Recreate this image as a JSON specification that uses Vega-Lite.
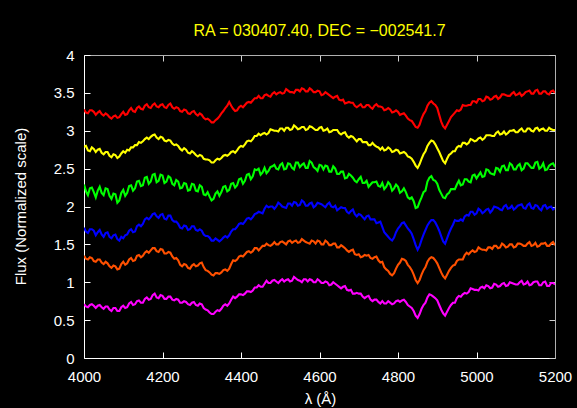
{
"$schema":"https://vega.github.io/schema/vega-lite/v6.json",
"width":471,"height":303,
"autosize":{"type":"none"},
"padding":{"left":84,"top":55,"right":22,"bottom":50},
"background":"black",
"config":{"view":{"stroke":null},"font":"Liberation Sans"},
"title":{"text":"RA = 030407.40, DEC = −002541.7","color":"#ffff00","fontSize":16,"fontWeight":"normal","font":"Liberation Sans","baseline":"alphabetic","offset":8,"dy":12,"anchor":"middle"},
"data":{"values":[
{"x":4000,"r":3.28,"y":2.79,"g":2.29,"b":1.72,"o":1.35,"m":0.71},
{"x":4005,"r":3.24,"y":2.80,"g":2.20,"b":1.67,"o":1.31,"m":0.68},
{"x":4010,"r":3.23,"y":2.74,"g":2.15,"b":1.65,"o":1.30,"m":0.67},
{"x":4015,"r":3.27,"y":2.73,"g":2.24,"b":1.70,"o":1.33,"m":0.70},
{"x":4020,"r":3.27,"y":2.78,"g":2.25,"b":1.70,"o":1.32,"m":0.71},
{"x":4025,"r":3.25,"y":2.76,"g":2.19,"b":1.68,"o":1.28,"m":0.69},
{"x":4030,"r":3.21,"y":2.72,"g":2.12,"b":1.62,"o":1.27,"m":0.66},
{"x":4035,"r":3.24,"y":2.75,"g":2.21,"b":1.66,"o":1.30,"m":0.69},
{"x":4040,"r":3.26,"y":2.76,"g":2.26,"b":1.69,"o":1.30,"m":0.70},
{"x":4045,"r":3.22,"y":2.71,"g":2.18,"b":1.63,"o":1.26,"m":0.67},
{"x":4050,"r":3.20,"y":2.69,"g":2.15,"b":1.60,"o":1.24,"m":0.65},
{"x":4055,"r":3.23,"y":2.72,"g":2.24,"b":1.65,"o":1.27,"m":0.68},
{"x":4060,"r":3.21,"y":2.72,"g":2.23,"b":1.66,"o":1.25,"m":0.68},
{"x":4065,"r":3.18,"y":2.67,"g":2.14,"b":1.60,"o":1.21,"m":0.64},
{"x":4070,"r":3.16,"y":2.65,"g":2.10,"b":1.58,"o":1.19,"m":0.62},
{"x":4075,"r":3.19,"y":2.69,"g":2.17,"b":1.62,"o":1.22,"m":0.66},
{"x":4080,"r":3.20,"y":2.68,"g":2.16,"b":1.63,"o":1.21,"m":0.66},
{"x":4085,"r":3.17,"y":2.64,"g":2.05,"b":1.57,"o":1.17,"m":0.62},
{"x":4090,"r":3.18,"y":2.66,"g":2.08,"b":1.55,"o":1.18,"m":0.62},
{"x":4095,"r":3.22,"y":2.70,"g":2.18,"b":1.60,"o":1.24,"m":0.67},
{"x":4100,"r":3.25,"y":2.73,"g":2.22,"b":1.58,"o":1.27,"m":0.69},
{"x":4105,"r":3.21,"y":2.71,"g":2.14,"b":1.62,"o":1.23,"m":0.66},
{"x":4110,"r":3.22,"y":2.75,"g":2.18,"b":1.63,"o":1.25,"m":0.67},
{"x":4115,"r":3.27,"y":2.74,"g":2.27,"b":1.68,"o":1.30,"m":0.72},
{"x":4120,"r":3.30,"y":2.78,"g":2.28,"b":1.70,"o":1.32,"m":0.74},
{"x":4125,"r":3.26,"y":2.78,"g":2.21,"b":1.66,"o":1.28,"m":0.70},
{"x":4130,"r":3.25,"y":2.81,"g":2.24,"b":1.67,"o":1.29,"m":0.71},
{"x":4135,"r":3.30,"y":2.81,"g":2.33,"b":1.74,"o":1.35,"m":0.75},
{"x":4140,"r":3.32,"y":2.85,"g":2.34,"b":1.76,"o":1.36,"m":0.76},
{"x":4145,"r":3.29,"y":2.84,"g":2.27,"b":1.74,"o":1.33,"m":0.73},
{"x":4150,"r":3.28,"y":2.86,"g":2.28,"b":1.77,"o":1.35,"m":0.73},
{"x":4155,"r":3.33,"y":2.89,"g":2.38,"b":1.83,"o":1.39,"m":0.78},
{"x":4160,"r":3.35,"y":2.91,"g":2.39,"b":1.85,"o":1.41,"m":0.80},
{"x":4165,"r":3.31,"y":2.89,"g":2.30,"b":1.83,"o":1.39,"m":0.77},
{"x":4170,"r":3.30,"y":2.92,"g":2.33,"b":1.86,"o":1.42,"m":0.78},
{"x":4175,"r":3.34,"y":2.94,"g":2.42,"b":1.90,"o":1.45,"m":0.83},
{"x":4180,"r":3.36,"y":2.95,"g":2.43,"b":1.91,"o":1.45,"m":0.85},
{"x":4185,"r":3.32,"y":2.91,"g":2.32,"b":1.87,"o":1.41,"m":0.80},
{"x":4190,"r":3.31,"y":2.89,"g":2.34,"b":1.85,"o":1.40,"m":0.79},
{"x":4195,"r":3.34,"y":2.92,"g":2.42,"b":1.89,"o":1.44,"m":0.83},
{"x":4200,"r":3.35,"y":2.91,"g":2.41,"b":1.90,"o":1.43,"m":0.82},
{"x":4205,"r":3.31,"y":2.87,"g":2.31,"b":1.84,"o":1.38,"m":0.78},
{"x":4210,"r":3.30,"y":2.86,"g":2.33,"b":1.83,"o":1.38,"m":0.78},
{"x":4215,"r":3.34,"y":2.88,"g":2.40,"b":1.88,"o":1.40,"m":0.81},
{"x":4220,"r":3.36,"y":2.87,"g":2.38,"b":1.88,"o":1.39,"m":0.81},
{"x":4225,"r":3.31,"y":2.83,"g":2.30,"b":1.82,"o":1.34,"m":0.77},
{"x":4230,"r":3.29,"y":2.81,"g":2.28,"b":1.80,"o":1.31,"m":0.76},
{"x":4235,"r":3.31,"y":2.82,"g":2.35,"b":1.80,"o":1.32,"m":0.78},
{"x":4240,"r":3.30,"y":2.80,"g":2.33,"b":1.77,"o":1.29,"m":0.77},
{"x":4245,"r":3.26,"y":2.76,"g":2.24,"b":1.72,"o":1.23,"m":0.73},
{"x":4250,"r":3.25,"y":2.74,"g":2.25,"b":1.71,"o":1.21,"m":0.73},
{"x":4255,"r":3.28,"y":2.77,"g":2.31,"b":1.75,"o":1.24,"m":0.75},
{"x":4260,"r":3.27,"y":2.75,"g":2.30,"b":1.74,"o":1.23,"m":0.74},
{"x":4265,"r":3.23,"y":2.71,"g":2.21,"b":1.69,"o":1.19,"m":0.71},
{"x":4270,"r":3.22,"y":2.70,"g":2.22,"b":1.70,"o":1.18,"m":0.70},
{"x":4275,"r":3.25,"y":2.73,"g":2.30,"b":1.74,"o":1.22,"m":0.73},
{"x":4280,"r":3.26,"y":2.71,"g":2.29,"b":1.74,"o":1.24,"m":0.74},
{"x":4285,"r":3.22,"y":2.68,"g":2.21,"b":1.69,"o":1.21,"m":0.70},
{"x":4290,"r":3.20,"y":2.66,"g":2.20,"b":1.68,"o":1.22,"m":0.69},
{"x":4295,"r":3.23,"y":2.68,"g":2.28,"b":1.70,"o":1.25,"m":0.72},
{"x":4300,"r":3.21,"y":2.67,"g":2.26,"b":1.68,"o":1.26,"m":0.71},
{"x":4305,"r":3.17,"y":2.63,"g":2.16,"b":1.63,"o":1.20,"m":0.66},
{"x":4310,"r":3.15,"y":2.62,"g":2.15,"b":1.61,"o":1.16,"m":0.64},
{"x":4315,"r":3.16,"y":2.62,"g":2.19,"b":1.61,"o":1.15,"m":0.63},
{"x":4320,"r":3.14,"y":2.61,"g":2.13,"b":1.59,"o":1.13,"m":0.60},
{"x":4325,"r":3.11,"y":2.58,"g":2.08,"b":1.55,"o":1.10,"m":0.58},
{"x":4330,"r":3.11,"y":2.58,"g":2.10,"b":1.55,"o":1.09,"m":0.58},
{"x":4335,"r":3.14,"y":2.61,"g":2.17,"b":1.58,"o":1.12,"m":0.61},
{"x":4340,"r":3.16,"y":2.63,"g":2.20,"b":1.56,"o":1.12,"m":0.63},
{"x":4345,"r":3.19,"y":2.62,"g":2.14,"b":1.54,"o":1.11,"m":0.62},
{"x":4350,"r":3.23,"y":2.64,"g":2.19,"b":1.56,"o":1.13,"m":0.65},
{"x":4355,"r":3.26,"y":2.67,"g":2.26,"b":1.59,"o":1.16,"m":0.69},
{"x":4360,"r":3.30,"y":2.68,"g":2.27,"b":1.61,"o":1.17,"m":0.71},
{"x":4365,"r":3.33,"y":2.67,"g":2.20,"b":1.59,"o":1.15,"m":0.69},
{"x":4370,"r":3.38,"y":2.69,"g":2.22,"b":1.62,"o":1.18,"m":0.72},
{"x":4375,"r":3.33,"y":2.72,"g":2.30,"b":1.67,"o":1.24,"m":0.77},
{"x":4380,"r":3.29,"y":2.73,"g":2.31,"b":1.70,"o":1.29,"m":0.81},
{"x":4385,"r":3.26,"y":2.71,"g":2.25,"b":1.70,"o":1.28,"m":0.79},
{"x":4390,"r":3.27,"y":2.74,"g":2.28,"b":1.73,"o":1.30,"m":0.81},
{"x":4395,"r":3.31,"y":2.78,"g":2.36,"b":1.77,"o":1.34,"m":0.84},
{"x":4400,"r":3.33,"y":2.80,"g":2.37,"b":1.78,"o":1.35,"m":0.84},
{"x":4405,"r":3.31,"y":2.79,"g":2.30,"b":1.77,"o":1.34,"m":0.83},
{"x":4410,"r":3.34,"y":2.82,"g":2.34,"b":1.80,"o":1.37,"m":0.85},
{"x":4415,"r":3.37,"y":2.86,"g":2.42,"b":1.84,"o":1.40,"m":0.88},
{"x":4420,"r":3.38,"y":2.87,"g":2.43,"b":1.85,"o":1.41,"m":0.88},
{"x":4425,"r":3.37,"y":2.86,"g":2.36,"b":1.83,"o":1.39,"m":0.87},
{"x":4430,"r":3.40,"y":2.89,"g":2.40,"b":1.86,"o":1.41,"m":0.89},
{"x":4435,"r":3.43,"y":2.93,"g":2.49,"b":1.90,"o":1.45,"m":0.93},
{"x":4440,"r":3.43,"y":2.93,"g":2.48,"b":1.91,"o":1.45,"m":0.93},
{"x":4445,"r":3.46,"y":2.96,"g":2.50,"b":1.93,"o":1.42,"m":0.96},
{"x":4450,"r":3.43,"y":2.94,"g":2.42,"b":1.92,"o":1.45,"m":0.94},
{"x":4455,"r":3.43,"y":2.96,"g":2.45,"b":1.91,"o":1.48,"m":0.94},
{"x":4460,"r":3.47,"y":2.97,"g":2.51,"b":1.97,"o":1.48,"m":0.98},
{"x":4465,"r":3.48,"y":2.95,"g":2.44,"b":2.01,"o":1.51,"m":1.02},
{"x":4470,"r":3.46,"y":2.97,"g":2.47,"b":1.99,"o":1.49,"m":0.99},
{"x":4475,"r":3.45,"y":3.02,"g":2.52,"b":2.00,"o":1.48,"m":0.99},
{"x":4480,"r":3.49,"y":3.01,"g":2.53,"b":2.00,"o":1.50,"m":1.02},
{"x":4485,"r":3.51,"y":3.00,"g":2.55,"b":1.97,"o":1.53,"m":1.03},
{"x":4490,"r":3.48,"y":3.00,"g":2.50,"b":2.00,"o":1.50,"m":1.01},
{"x":4495,"r":3.50,"y":2.99,"g":2.49,"b":2.05,"o":1.50,"m":0.99},
{"x":4500,"r":3.51,"y":3.03,"g":2.55,"b":2.03,"o":1.53,"m":1.02},
{"x":4505,"r":3.49,"y":3.03,"g":2.57,"b":2.00,"o":1.54,"m":1.04},
{"x":4510,"r":3.50,"y":3.00,"g":2.49,"b":1.99,"o":1.52,"m":1.01},
{"x":4515,"r":3.55,"y":3.04,"g":2.50,"b":1.98,"o":1.50,"m":1.03},
{"x":4520,"r":3.53,"y":3.04,"g":2.57,"b":2.04,"o":1.54,"m":1.04},
{"x":4525,"r":3.51,"y":3.01,"g":2.56,"b":2.04,"o":1.55,"m":1.01},
{"x":4530,"r":3.51,"y":3.02,"g":2.51,"b":2.01,"o":1.52,"m":1.02},
{"x":4535,"r":3.50,"y":3.07,"g":2.49,"b":2.06,"o":1.54,"m":1.07},
{"x":4540,"r":3.54,"y":3.05,"g":2.58,"b":2.05,"o":1.55,"m":1.05},
{"x":4545,"r":3.54,"y":3.02,"g":2.58,"b":2.01,"o":1.52,"m":1.03},
{"x":4550,"r":3.52,"y":3.03,"g":2.52,"b":2.02,"o":1.53,"m":1.02},
{"x":4555,"r":3.56,"y":3.05,"g":2.55,"b":2.08,"o":1.57,"m":1.00},
{"x":4560,"r":3.55,"y":3.05,"g":2.57,"b":2.06,"o":1.55,"m":1.04},
{"x":4565,"r":3.52,"y":3.01,"g":2.51,"b":2.01,"o":1.53,"m":1.04},
{"x":4570,"r":3.52,"y":3.02,"g":2.51,"b":2.01,"o":1.52,"m":1.01},
{"x":4575,"r":3.56,"y":3.06,"g":2.60,"b":2.04,"o":1.51,"m":1.04},
{"x":4580,"r":3.54,"y":3.05,"g":2.58,"b":2.05,"o":1.55,"m":1.03},
{"x":4585,"r":3.51,"y":3.03,"g":2.52,"b":1.99,"o":1.54,"m":1.00},
{"x":4590,"r":3.51,"y":3.01,"g":2.50,"b":2.01,"o":1.51,"m":1.00},
{"x":4595,"r":3.53,"y":3.01,"g":2.47,"b":2.05,"o":1.55,"m":1.04},
{"x":4600,"r":3.52,"y":3.04,"g":2.55,"b":2.04,"o":1.54,"m":1.02},
{"x":4605,"r":3.47,"y":3.05,"g":2.54,"b":2.03,"o":1.50,"m":0.99},
{"x":4610,"r":3.48,"y":3.00,"g":2.49,"b":2.01,"o":1.50,"m":0.99},
{"x":4615,"r":3.51,"y":3.01,"g":2.54,"b":1.99,"o":1.55,"m":1.01},
{"x":4620,"r":3.49,"y":3.03,"g":2.53,"b":2.03,"o":1.53,"m":1.00},
{"x":4625,"r":3.47,"y":2.98,"g":2.46,"b":2.05,"o":1.49,"m":0.96},
{"x":4630,"r":3.45,"y":2.99,"g":2.46,"b":2.00,"o":1.49,"m":0.97},
{"x":4635,"r":3.43,"y":3.01,"g":2.53,"b":1.99,"o":1.51,"m":1.00},
{"x":4640,"r":3.45,"y":3.01,"g":2.50,"b":2.01,"o":1.51,"m":0.98},
{"x":4645,"r":3.46,"y":3.01,"g":2.43,"b":1.95,"o":1.46,"m":0.96},
{"x":4650,"r":3.41,"y":2.97,"g":2.43,"b":1.97,"o":1.46,"m":0.94},
{"x":4655,"r":3.40,"y":2.95,"g":2.46,"b":1.99,"o":1.49,"m":0.92},
{"x":4660,"r":3.41,"y":2.97,"g":2.46,"b":1.98,"o":1.47,"m":0.94},
{"x":4665,"r":3.36,"y":2.98,"g":2.37,"b":1.98,"o":1.45,"m":0.95},
{"x":4670,"r":3.37,"y":2.93,"g":2.38,"b":1.93,"o":1.42,"m":0.90},
{"x":4675,"r":3.38,"y":2.91,"g":2.43,"b":1.91,"o":1.40,"m":0.89},
{"x":4680,"r":3.37,"y":2.93,"g":2.41,"b":1.94,"o":1.42,"m":0.90},
{"x":4685,"r":3.37,"y":2.92,"g":2.38,"b":1.96,"o":1.43,"m":0.85},
{"x":4690,"r":3.33,"y":2.89,"g":2.34,"b":1.90,"o":1.37,"m":0.85},
{"x":4695,"r":3.31,"y":2.86,"g":2.32,"b":1.87,"o":1.36,"m":0.86},
{"x":4700,"r":3.33,"y":2.89,"g":2.36,"b":1.90,"o":1.37,"m":0.85},
{"x":4705,"r":3.35,"y":2.89,"g":2.39,"b":1.89,"o":1.33,"m":0.85},
{"x":4710,"r":3.31,"y":2.85,"g":2.31,"b":1.86,"o":1.34,"m":0.81},
{"x":4715,"r":3.31,"y":2.85,"g":2.31,"b":1.83,"o":1.36,"m":0.79},
{"x":4720,"r":3.34,"y":2.85,"g":2.34,"b":1.87,"o":1.35,"m":0.81},
{"x":4725,"r":3.34,"y":2.81,"g":2.26,"b":1.88,"o":1.36,"m":0.82},
{"x":4730,"r":3.31,"y":2.81,"g":2.29,"b":1.83,"o":1.32,"m":0.77},
{"x":4735,"r":3.29,"y":2.84,"g":2.32,"b":1.83,"o":1.31,"m":0.75},
{"x":4740,"r":3.33,"y":2.81,"g":2.32,"b":1.83,"o":1.33,"m":0.77},
{"x":4745,"r":3.35,"y":2.79,"g":2.33,"b":1.78,"o":1.34,"m":0.77},
{"x":4750,"r":3.32,"y":2.78,"g":2.27,"b":1.79,"o":1.29,"m":0.74},
{"x":4755,"r":3.32,"y":2.75,"g":2.26,"b":1.80,"o":1.26,"m":0.72},
{"x":4760,"r":3.31,"y":2.78,"g":2.31,"b":1.73,"o":1.27,"m":0.75},
{"x":4765,"r":3.27,"y":2.74,"g":2.23,"b":1.66,"o":1.20,"m":0.72},
{"x":4770,"r":3.28,"y":2.75,"g":2.26,"b":1.63,"o":1.17,"m":0.72},
{"x":4775,"r":3.30,"y":2.78,"g":2.32,"b":1.60,"o":1.15,"m":0.75},
{"x":4780,"r":3.28,"y":2.76,"g":2.29,"b":1.57,"o":1.11,"m":0.73},
{"x":4785,"r":3.24,"y":2.72,"g":2.21,"b":1.55,"o":1.09,"m":0.71},
{"x":4790,"r":3.25,"y":2.73,"g":2.24,"b":1.59,"o":1.12,"m":0.72},
{"x":4795,"r":3.27,"y":2.75,"g":2.29,"b":1.66,"o":1.18,"m":0.75},
{"x":4800,"r":3.25,"y":2.74,"g":2.26,"b":1.71,"o":1.23,"m":0.76},
{"x":4805,"r":3.21,"y":2.70,"g":2.18,"b":1.74,"o":1.26,"m":0.74},
{"x":4810,"r":3.22,"y":2.71,"g":2.20,"b":1.78,"o":1.31,"m":0.76},
{"x":4815,"r":3.23,"y":2.72,"g":2.24,"b":1.79,"o":1.30,"m":0.77},
{"x":4820,"r":3.20,"y":2.70,"g":2.19,"b":1.75,"o":1.28,"m":0.74},
{"x":4825,"r":3.16,"y":2.66,"g":2.12,"b":1.71,"o":1.23,"m":0.70},
{"x":4830,"r":3.14,"y":2.65,"g":2.10,"b":1.68,"o":1.20,"m":0.68},
{"x":4835,"r":3.13,"y":2.63,"g":2.12,"b":1.64,"o":1.16,"m":0.66},
{"x":4840,"r":3.09,"y":2.59,"g":2.07,"b":1.57,"o":1.10,"m":0.62},
{"x":4845,"r":3.05,"y":2.54,"g":1.98,"b":1.49,"o":1.03,"m":0.56},
{"x":4850,"r":3.04,"y":2.51,"g":1.99,"b":1.43,"o":0.99,"m":0.53},
{"x":4855,"r":3.08,"y":2.56,"g":2.06,"b":1.48,"o":1.03,"m":0.58},
{"x":4860,"r":3.16,"y":2.63,"g":2.12,"b":1.56,"o":1.10,"m":0.65},
{"x":4865,"r":3.22,"y":2.69,"g":2.19,"b":1.63,"o":1.16,"m":0.70},
{"x":4870,"r":3.26,"y":2.73,"g":2.21,"b":1.69,"o":1.20,"m":0.73},
{"x":4875,"r":3.33,"y":2.80,"g":2.33,"b":1.75,"o":1.27,"m":0.80},
{"x":4880,"r":3.37,"y":2.84,"g":2.38,"b":1.79,"o":1.31,"m":0.84},
{"x":4885,"r":3.39,"y":2.87,"g":2.40,"b":1.82,"o":1.33,"m":0.83},
{"x":4890,"r":3.36,"y":2.86,"g":2.35,"b":1.82,"o":1.32,"m":0.81},
{"x":4895,"r":3.34,"y":2.82,"g":2.34,"b":1.79,"o":1.29,"m":0.79},
{"x":4900,"r":3.30,"y":2.77,"g":2.30,"b":1.74,"o":1.25,"m":0.76},
{"x":4905,"r":3.21,"y":2.72,"g":2.22,"b":1.68,"o":1.19,"m":0.70},
{"x":4910,"r":3.12,"y":2.66,"g":2.17,"b":1.61,"o":1.13,"m":0.64},
{"x":4915,"r":3.06,"y":2.60,"g":2.12,"b":1.54,"o":1.08,"m":0.59},
{"x":4920,"r":3.03,"y":2.57,"g":2.11,"b":1.51,"o":1.05,"m":0.56},
{"x":4925,"r":3.08,"y":2.63,"g":2.16,"b":1.58,"o":1.10,"m":0.61},
{"x":4930,"r":3.13,"y":2.68,"g":2.18,"b":1.65,"o":1.15,"m":0.66},
{"x":4935,"r":3.18,"y":2.70,"g":2.23,"b":1.71,"o":1.19,"m":0.70},
{"x":4940,"r":3.21,"y":2.73,"g":2.23,"b":1.76,"o":1.22,"m":0.73},
{"x":4945,"r":3.24,"y":2.73,"g":2.23,"b":1.82,"o":1.23,"m":0.73},
{"x":4950,"r":3.27,"y":2.78,"g":2.29,"b":1.81,"o":1.28,"m":0.79},
{"x":4955,"r":3.26,"y":2.80,"g":2.34,"b":1.81,"o":1.30,"m":0.82},
{"x":4960,"r":3.28,"y":2.79,"g":2.28,"b":1.83,"o":1.30,"m":0.81},
{"x":4965,"r":3.34,"y":2.84,"g":2.29,"b":1.81,"o":1.30,"m":0.84},
{"x":4970,"r":3.33,"y":2.84,"g":2.36,"b":1.87,"o":1.36,"m":0.86},
{"x":4975,"r":3.33,"y":2.82,"g":2.36,"b":1.89,"o":1.39,"m":0.85},
{"x":4980,"r":3.34,"y":2.84,"g":2.33,"b":1.88,"o":1.37,"m":0.87},
{"x":4985,"r":3.34,"y":2.89,"g":2.32,"b":1.93,"o":1.40,"m":0.92},
{"x":4990,"r":3.39,"y":2.88,"g":2.41,"b":1.93,"o":1.42,"m":0.91},
{"x":4995,"r":3.39,"y":2.86,"g":2.42,"b":1.89,"o":1.40,"m":0.90},
{"x":5000,"r":3.37,"y":2.87,"g":2.37,"b":1.91,"o":1.41,"m":0.90},
{"x":5005,"r":3.42,"y":2.90,"g":2.41,"b":1.97,"o":1.46,"m":0.89},
{"x":5010,"r":3.42,"y":2.91,"g":2.45,"b":1.95,"o":1.44,"m":0.93},
{"x":5015,"r":3.39,"y":2.88,"g":2.39,"b":1.91,"o":1.43,"m":0.94},
{"x":5020,"r":3.40,"y":2.90,"g":2.40,"b":1.93,"o":1.43,"m":0.92},
{"x":5025,"r":3.45,"y":2.94,"g":2.49,"b":1.96,"o":1.42,"m":0.96},
{"x":5030,"r":3.44,"y":2.94,"g":2.48,"b":1.97,"o":1.46,"m":0.95},
{"x":5035,"r":3.41,"y":2.94,"g":2.44,"b":1.92,"o":1.46,"m":0.92},
{"x":5040,"r":3.42,"y":2.93,"g":2.43,"b":1.95,"o":1.44,"m":0.93},
{"x":5045,"r":3.45,"y":2.93,"g":2.42,"b":2.00,"o":1.48,"m":0.98},
{"x":5050,"r":3.46,"y":2.97,"g":2.51,"b":1.99,"o":1.48,"m":0.97},
{"x":5055,"r":3.42,"y":2.99,"g":2.50,"b":1.98,"o":1.45,"m":0.94},
{"x":5060,"r":3.44,"y":2.95,"g":2.46,"b":1.96,"o":1.46,"m":0.95},
{"x":5065,"r":3.48,"y":2.96,"g":2.53,"b":1.95,"o":1.51,"m":0.98},
{"x":5070,"r":3.48,"y":2.99,"g":2.54,"b":2.00,"o":1.49,"m":0.99},
{"x":5075,"r":3.47,"y":2.95,"g":2.48,"b":2.02,"o":1.46,"m":0.95},
{"x":5080,"r":3.46,"y":2.97,"g":2.48,"b":1.97,"o":1.47,"m":0.96},
{"x":5085,"r":3.46,"y":3.00,"g":2.57,"b":1.98,"o":1.50,"m":1.00},
{"x":5090,"r":3.49,"y":3.00,"g":2.55,"b":2.01,"o":1.50,"m":0.99},
{"x":5095,"r":3.51,"y":3.01,"g":2.49,"b":1.96,"o":1.46,"m":0.98},
{"x":5100,"r":3.47,"y":2.98,"g":2.49,"b":1.98,"o":1.47,"m":0.97},
{"x":5105,"r":3.48,"y":2.98,"g":2.54,"b":2.01,"o":1.51,"m":0.97},
{"x":5110,"r":3.50,"y":3.01,"g":2.56,"b":2.02,"o":1.51,"m":1.00},
{"x":5115,"r":3.46,"y":3.03,"g":2.48,"b":2.03,"o":1.50,"m":1.02},
{"x":5120,"r":3.48,"y":2.99,"g":2.50,"b":1.98,"o":1.48,"m":0.97},
{"x":5125,"r":3.51,"y":2.99,"g":2.57,"b":1.97,"o":1.48,"m":0.98},
{"x":5130,"r":3.52,"y":3.03,"g":2.57,"b":2.02,"o":1.51,"m":1.01},
{"x":5135,"r":3.53,"y":3.03,"g":2.54,"b":2.04,"o":1.53,"m":0.96},
{"x":5140,"r":3.49,"y":3.00,"g":2.51,"b":1.98,"o":1.48,"m":0.97},
{"x":5145,"r":3.49,"y":2.99,"g":2.51,"b":1.97,"o":1.49,"m":1.00},
{"x":5150,"r":3.53,"y":3.03,"g":2.58,"b":2.02,"o":1.52,"m":1.01},
{"x":5155,"r":3.54,"y":3.04,"g":2.59,"b":2.01,"o":1.47,"m":1.01},
{"x":5160,"r":3.49,"y":3.00,"g":2.50,"b":1.97,"o":1.48,"m":0.96},
{"x":5165,"r":3.49,"y":3.02,"g":2.52,"b":1.95,"o":1.51,"m":0.96},
{"x":5170,"r":3.52,"y":3.03,"g":2.57,"b":2.01,"o":1.51,"m":1.00},
{"x":5175,"r":3.52,"y":3.00,"g":2.48,"b":2.02,"o":1.52,"m":1.01},
{"x":5180,"r":3.49,"y":3.00,"g":2.49,"b":1.97,"o":1.48,"m":0.95},
{"x":5185,"r":3.48,"y":3.04,"g":2.54,"b":1.99,"o":1.48,"m":0.95},
{"x":5190,"r":3.52,"y":3.02,"g":2.56,"b":2.00,"o":1.51,"m":0.99},
{"x":5195,"r":3.53,"y":3.01,"g":2.57,"b":1.96,"o":1.53,"m":0.99},
{"x":5200,"r":3.50,"y":3.01,"g":2.52,"b":1.98,"o":1.49,"m":0.97}
]},
"transform":[{"fold":["r","y","g","b","o","m"],"as":["s","flux"]}],
"layer":[
{"mark":{"type":"line","strokeWidth":2.1,"clip":true},
 "encoding":{
  "x":{"field":"x","type":"quantitative","scale":{"domain":[4000,5200],"nice":false,"zero":false},
   "axis":{"orient":"bottom","values":[4000,4200,4400,4600,4800,5000,5200],"format":"d","grid":false,"domainColor":"white","tickColor":"white","tickSize":-6,"labelColor":"white","labelFontSize":15,"labelFont":"Liberation Sans","labelPadding":17,"labelFlush":false,"labelOverlap":false,"title":"λ (Å)","titleColor":"white","titleFontSize":15,"titleFont":"Liberation Sans","titleFontWeight":"normal","titleX":236,"titleY":45,"titleBaseline":"alphabetic","titleAlign":"center"}},
  "y":{"field":"flux","type":"quantitative","scale":{"domain":[0,4],"nice":false},
   "axis":{"orient":"left","values":[0,0.5,1,1.5,2,2.5,3,3.5,4],"format":"~g","grid":false,"domainColor":"white","tickColor":"white","tickSize":-6,"labelColor":"white","labelFontSize":15,"labelFont":"Liberation Sans","labelPadding":16,"labelOverlap":false,"title":"Flux (Normalized scale)","titleColor":"white","titleFontSize":15,"titleFont":"Liberation Sans","titleFontWeight":"normal","titleX":-59,"titleY":151,"titleAngle":-90,"titleBaseline":"alphabetic","titleAlign":"center"}},
  "color":{"field":"s","type":"nominal","scale":{"domain":["r","y","g","b","o","m"],"range":["#ff0000","#ffff00","#00ff00","#0000ff","#ff5000","#ff00ff"]},"legend":null}
 }},
{"mark":{"type":"point","opacity":0},
 "encoding":{
  "x":{"field":"x","type":"quantitative","scale":{"domain":[4000,5200],"nice":false,"zero":false},
   "axis":{"orient":"top","values":[4000,4200,4400,4600,4800,5000,5200],"grid":false,"labels":false,"title":null,"domainColor":"#b0b0b0","tickColor":"#d0d0d0","tickSize":-6}},
  "y":{"field":"flux","type":"quantitative","scale":{"domain":[0,4],"nice":false},
   "axis":{"orient":"right","values":[0,0.5,1,1.5,2,2.5,3,3.5,4],"grid":false,"labels":false,"title":null,"domainColor":"#b0b0b0","tickColor":"#d0d0d0","tickSize":-6}}
 }}
],
"resolve":{"axis":{"x":"independent","y":"independent"}}
}
